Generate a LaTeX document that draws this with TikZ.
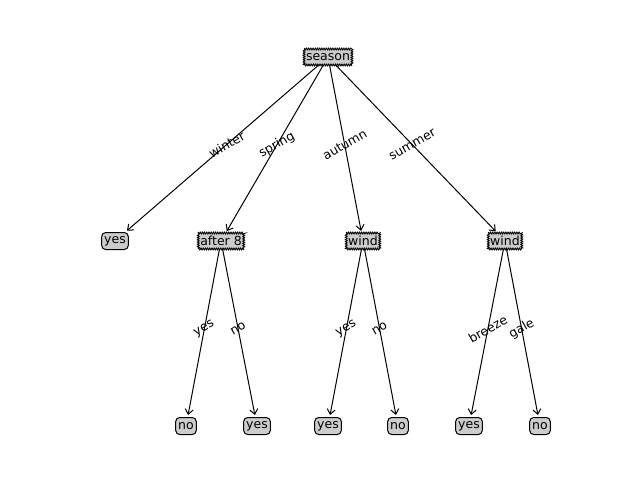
\documentclass[tikz,border=0pt]{standalone}
\usepackage{fontspec}
\setmainfont{DejaVu Sans}
\usetikzlibrary{decorations.pathmorphing,backgrounds,arrows.meta}
\begin{document}
\begin{tikzpicture}[x=1pt,y=-1pt,font=\fontsize{12.5}{14}\selectfont,
 dec/.style={fill=black!20,inner sep=2pt,minimum height=16pt,
   postaction={draw,line width=0.9pt,decorate,decoration={zigzag,segment length=2.2pt,amplitude=0.9pt}}},
 leaf/.style={draw,line width=1pt,fill=black!20,rounded corners=4pt,inner sep=2.5pt,minimum height=17pt},
 edge/.style={-{Straight Barb[length=5pt,width=8pt,line width=1pt]},line width=1pt,shorten >=2pt},
 lab/.style={rotate=30}]
\useasboundingbox (0,0) rectangle (640,480);
\node[dec] (s) at (328,57) {season};
\node[leaf] (l1) at (115,241) {yes};
\node[dec] (a8) at (221,241) {after 8};
\node[dec] (w1) at (363,241) {wind};
\node[dec] (w2) at (505,241) {wind};
\node[leaf] (n1) at (186,426) {no};
\node[leaf] (n2) at (257,426) {yes};
\node[leaf] (n3) at (328,426) {yes};
\node[leaf] (n4) at (398,426) {no};
\node[leaf] (n5) at (469,426) {yes};
\node[leaf] (n6) at (540,426) {no};
\begin{scope}[on background layer]
\draw[edge] (s.center) -- (l1) node[midway,lab]{winter};
\draw[edge] (s.center) -- (a8) node[midway,lab]{spring};
\draw[edge] (s.center) -- (w1) node[midway,lab]{autumn};
\draw[edge] (s.center) -- (w2) node[midway,lab]{summer};
\draw[edge] (a8.center) -- (n1) node[midway,lab]{yes};
\draw[edge] (a8.center) -- (n2) node[midway,lab]{no};
\draw[edge] (w1.center) -- (n3) node[midway,lab]{yes};
\draw[edge] (w1.center) -- (n4) node[midway,lab]{no};
\draw[edge] (w2.center) -- (n5) node[midway,lab]{breeze};
\draw[edge] (w2.center) -- (n6) node[midway,lab]{gale};
\end{scope}
\end{tikzpicture}
\end{document}
